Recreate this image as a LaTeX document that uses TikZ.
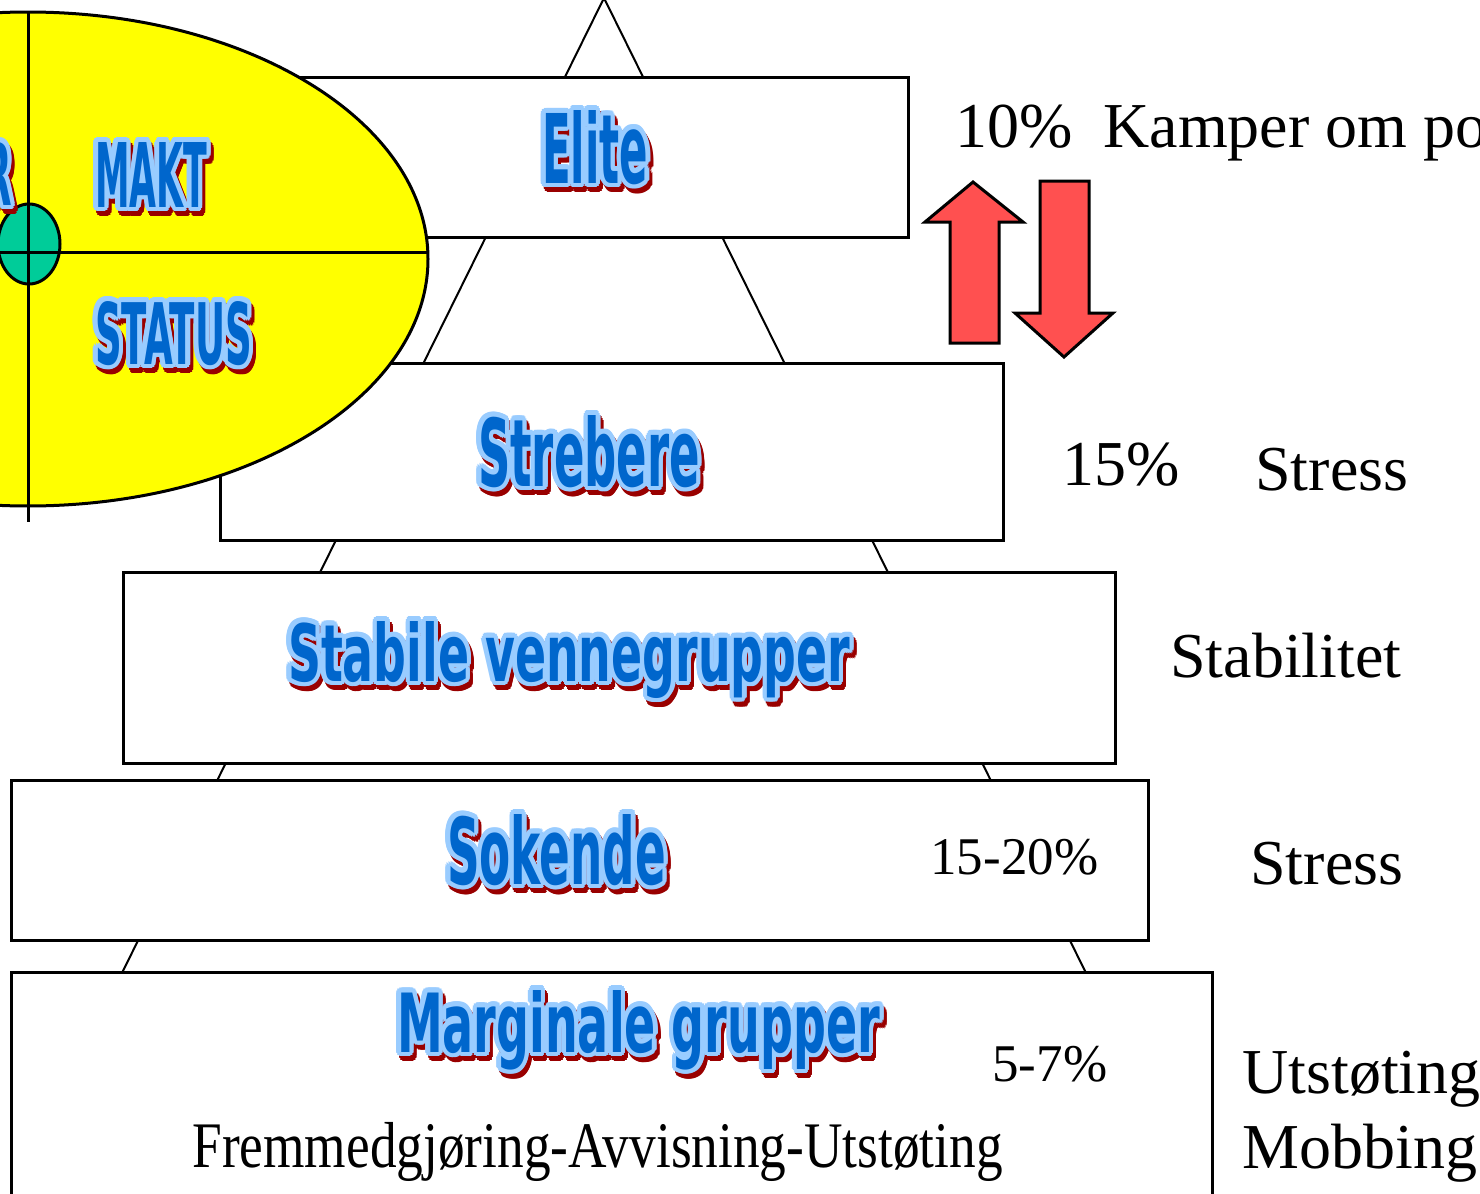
\documentclass[tikz,border=0pt]{standalone}
\usepackage{fontspec}
\usepackage{graphicx}
\setmainfont{Liberation Serif}
\newfontfamily\artfont{DejaVu Sans}
\usetikzlibrary{calc}

\definecolor{wablue}{HTML}{0066CC}
\definecolor{walight}{HTML}{99CCFF}
\definecolor{washadow}{HTML}{990000}
\definecolor{ovalyellow}{HTML}{FFFF00}
\definecolor{coregreen}{HTML}{00CC99}
\definecolor{arrowred}{HTML}{FF5050}

\newlength\wpx
\setlength\wpx{0.5pt}

% Outlined, shadowed heading: name, anchor, x, baseline y, width, height, text
\newcommand\wordart[7]{%
  \foreach \ang in {0,22.5,...,337.5}{%
    \node[wart,anchor=#2,text=washadow] at ([shift={(\ang:4.5)}] {#3+3},{#4+5})
      {\resizebox{#5\wpx}{#6\wpx}{\artfont\bfseries #7}};}%
  \foreach \ang in {0,22.5,...,337.5}{%
    \node[wart,anchor=#2,text=walight] at ([shift={(\ang:4.5)}] {#3},{#4})
      {\resizebox{#5\wpx}{#6\wpx}{\artfont\bfseries #7}};}%
  \node[wart,anchor=#2,text=wablue] (#1) at (#3,#4)
      {\resizebox{#5\wpx}{#6\wpx}{\artfont\bfseries #7}};%
}

\begin{document}
\begin{tikzpicture}[x=0.5pt,y=-0.5pt,
  wart/.style={inner sep=0pt,outer sep=0pt,font=\artfont\bfseries},
  level/.style={draw,fill=white,line width=1.5pt,inner sep=0pt,rectangle},
  side/.style={line width=1pt},
  lbl/.style={anchor=base west,inner sep=0pt,font=\fontsize{32}{38}\selectfont},
  small/.style={anchor=base west,inner sep=0pt,font=\fontsize{26.5}{32}\selectfont},
  bigarrow/.style={draw,fill=arrowred,line width=1.5pt,line join=miter}]
\useasboundingbox (0,0) rectangle (1480,1194);
\clip (0,0) rectangle (1480,1194);

% pyramid outline behind the levels
\coordinate (apex) at (604,-2);
\coordinate (baseL) at (121,975);
\coordinate (baseR) at (1087,975);
\draw[side] (apex) -- (baseL);
\draw[side] (apex) -- (baseR);

% levels
\node[level,minimum width=311pt,minimum height=80pt] (elite) at (597,157) {};
\node[level,minimum width=391.5pt,minimum height=88.5pt] (strebere) at (611.5,451.5) {};
\node[level,minimum width=496pt,minimum height=95.5pt] (stabile) at (619,667.5) {};
\node[level,minimum width=568.5pt,minimum height=80pt] (sokende) at (579.5,860) {};
\node[level,minimum width=600.5pt,minimum height=121pt] (marginale) at (611.5,1093) {};

% oval with quadrants
\draw[fill=ovalyellow,line width=1.5pt] (28,259) ellipse [x radius=400,y radius=247];
\draw[fill=coregreen,line width=1.5pt] (29,244) ellipse [x radius=31,y radius=40];
\draw[line width=1.5pt] (28,12) -- (28,522);
\draw[line width=1.5pt] (-10,252) -- (427.8,252);

% headings
\wordart{venner}{base east}{12}{205}{170}{63}{VENNER}
\wordart{makt}{base west}{95}{207}{112}{65}{MAKT}
\wordart{status}{base west}{95}{364}{157}{63}{STATUS}
\wordart{elitetxt}{base west}{542}{183}{106}{73}{Elite}
\wordart{strebtxt}{base west}{478}{486}{222}{71}{Strebere}
\wordart{stabtxt}{base west}{288}{681}{562}{60}{Stabile vennegrupper}
\wordart{soktxt}{base west}{447}{884}{219}{70}{Sokende}
\wordart{margtxt}{base west}{397}{1052}{483}{62}{Marginale grupper}

% arrows between the top levels
\draw[bigarrow] (973,182) -- (1023,222) -- (999,222) -- (999,343) -- (950,343) -- (950,222) -- (925,222) -- cycle;
\draw[bigarrow] (1040,181) -- (1089,181) -- (1089,313) -- (1113,313) -- (1064,357) -- (1015,313) -- (1040,313) -- cycle;

% labels
\node[lbl] (p10) at (955,147) {10\%};
\node[lbl] (kamper) at (1103,147) {Kamper om posisjoner};
\node[lbl] (p15) at (1062,485) {15\%};
\node[lbl] (stress1) at (1255,490) {Stress};
\node[lbl] (stab) at (1170,677) {Stabilitet};
\node[lbl] (stress2) at (1250,884) {Stress};
\node[small] (p1520) at (930,874) {15-20\%};
\node[small] (p57) at (992,1081) {5-7\%};
\node[lbl] (utst) at (1242,1093) {Utstøting};
\node[lbl] (mobb) at (1242,1168) {Mobbing};
\node[anchor=base west,inner sep=0pt,font=\fontsize{32.5}{38}\selectfont] (fremmed) at (192,1167)
  {\scalebox{0.82}[1]{Fremmedgjøring-Avvisning-Utstøting}};
\end{tikzpicture}
\end{document}
